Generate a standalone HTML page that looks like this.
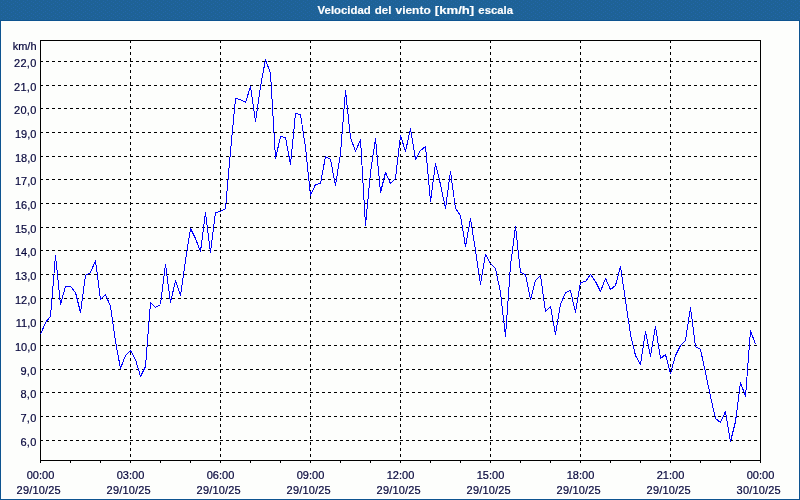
<!DOCTYPE html>
<html><head><meta charset="utf-8"><title>Velocidad del viento</title>
<style>
html,body{margin:0;padding:0;background:#fdfefc;}
body{width:800px;height:500px;overflow:hidden;position:relative;}
svg{position:absolute;left:0;top:0;display:block;}
text{font-family:"Liberation Sans",sans-serif;font-size:11px;fill:#06063c;stroke:#06063c;stroke-width:0.2px;}
.y{letter-spacing:0.3px;}
.t{font-weight:bold;fill:#ffffff;stroke:#ffffff;stroke-width:0.15px;font-size:11px;}
</style></head><body>
<svg width="800" height="500" viewBox="0 0 800 500">
<rect x="0" y="0" width="800" height="500" fill="#fdfefc"/>
<g shape-rendering="crispEdges">
<defs><pattern id="dth" x="0" y="0" width="8" height="4" patternUnits="userSpaceOnUse"><rect width="8" height="4" fill="#1e6296"/><rect x="3" y="0" width="1" height="1" fill="#2266aa"/><rect x="7" y="1" width="1" height="1" fill="#2266aa"/><rect x="1" y="2" width="1" height="1" fill="#2266aa"/><rect x="5" y="3" width="1" height="1" fill="#2266aa"/></pattern></defs>
<rect x="0" y="0" width="800" height="20" fill="#1e6296"/>
<rect x="0" y="0" width="800" height="20" fill="url(#dth)"/>
<rect x="0" y="20" width="800" height="1" fill="#0e5490"/>
<rect x="0" y="20" width="1" height="480" fill="#0e5490"/>
<rect x="799" y="20" width="1" height="480" fill="#0e5490"/>
<rect x="0" y="499" width="800" height="1" fill="#0e5490"/>
<rect x="798" y="21" width="1" height="478" fill="#ffffff"/>
<rect x="1" y="498" width="798" height="1" fill="#ffffff"/>
<g stroke="#000" stroke-width="1" stroke-dasharray="3 3" fill="none">
<line x1="40" y1="61.5" x2="760" y2="61.5"/>
<line x1="40" y1="85.5" x2="760" y2="85.5"/>
<line x1="40" y1="108.5" x2="760" y2="108.5"/>
<line x1="40" y1="132.5" x2="760" y2="132.5"/>
<line x1="40" y1="156.5" x2="760" y2="156.5"/>
<line x1="40" y1="179.5" x2="760" y2="179.5"/>
<line x1="40" y1="203.5" x2="760" y2="203.5"/>
<line x1="40" y1="227.5" x2="760" y2="227.5"/>
<line x1="40" y1="250.5" x2="760" y2="250.5"/>
<line x1="40" y1="274.5" x2="760" y2="274.5"/>
<line x1="40" y1="298.5" x2="760" y2="298.5"/>
<line x1="40" y1="321.5" x2="760" y2="321.5"/>
<line x1="40" y1="345.5" x2="760" y2="345.5"/>
<line x1="40" y1="369.5" x2="760" y2="369.5"/>
<line x1="40" y1="392.5" x2="760" y2="392.5"/>
<line x1="40" y1="416.5" x2="760" y2="416.5"/>
<line x1="40" y1="440.5" x2="760" y2="440.5"/>
<line x1="130.5" y1="40" x2="130.5" y2="460"/>
<line x1="220.5" y1="40" x2="220.5" y2="460"/>
<line x1="310.5" y1="40" x2="310.5" y2="460"/>
<line x1="400.5" y1="40" x2="400.5" y2="460"/>
<line x1="490.5" y1="40" x2="490.5" y2="460"/>
<line x1="580.5" y1="40" x2="580.5" y2="460"/>
<line x1="670.5" y1="40" x2="670.5" y2="460"/>
</g>
<g stroke="#000" stroke-width="1" fill="none">
<rect x="40.5" y="40.5" width="720" height="420"/>
<line x1="40.5" y1="461" x2="40.5" y2="463"/>
<line x1="70.5" y1="461" x2="70.5" y2="463"/>
<line x1="100.5" y1="461" x2="100.5" y2="463"/>
<line x1="130.5" y1="461" x2="130.5" y2="463"/>
<line x1="160.5" y1="461" x2="160.5" y2="463"/>
<line x1="190.5" y1="461" x2="190.5" y2="463"/>
<line x1="220.5" y1="461" x2="220.5" y2="463"/>
<line x1="250.5" y1="461" x2="250.5" y2="463"/>
<line x1="280.5" y1="461" x2="280.5" y2="463"/>
<line x1="310.5" y1="461" x2="310.5" y2="463"/>
<line x1="340.5" y1="461" x2="340.5" y2="463"/>
<line x1="370.5" y1="461" x2="370.5" y2="463"/>
<line x1="400.5" y1="461" x2="400.5" y2="463"/>
<line x1="430.5" y1="461" x2="430.5" y2="463"/>
<line x1="460.5" y1="461" x2="460.5" y2="463"/>
<line x1="490.5" y1="461" x2="490.5" y2="463"/>
<line x1="520.5" y1="461" x2="520.5" y2="463"/>
<line x1="550.5" y1="461" x2="550.5" y2="463"/>
<line x1="580.5" y1="461" x2="580.5" y2="463"/>
<line x1="610.5" y1="461" x2="610.5" y2="463"/>
<line x1="640.5" y1="461" x2="640.5" y2="463"/>
<line x1="670.5" y1="461" x2="670.5" y2="463"/>
<line x1="700.5" y1="461" x2="700.5" y2="463"/>
<line x1="730.5" y1="461" x2="730.5" y2="463"/>
<line x1="760.5" y1="461" x2="760.5" y2="463"/>
</g>
<polyline points="40.5,334.5 45.5,322.5 50.5,316.5 55.5,255.5 60.5,304.5 65.5,286.5 70.5,286.5 75.5,292.5 80.5,312.5 85.5,275.5 90.5,272.5 95.5,260.5 100.5,299.5 105.5,294.5 110.5,306.5 115.5,341.5 120.5,368.5 125.5,355.5 130.5,350.5 135.5,359.5 140.5,376.5 145.5,366.5 150.5,302.5 155.5,307.5 160.5,304.5 165.5,264.5 170.5,302.5 175.5,280.5 180.5,295.5 185.5,260.5 190.5,228.5 195.5,238.5 200.5,251.5 205.5,212.5 210.5,252.5 215.5,212.5 220.5,211.5 225.5,208.5 230.5,151.5 235.5,98.5 240.5,99.5 245.5,102.5 250.5,86.5 255.5,121.5 260.5,86.5 265.5,59.5 270.5,73.5 275.5,158.5 280.5,136.5 285.5,137.5 290.5,164.5 295.5,113.5 300.5,114.5 305.5,147.5 310.5,195.5 315.5,184.5 320.5,183.5 325.5,156.5 330.5,159.5 335.5,185.5 340.5,153.5 345.5,90.5 350.5,137.5 355.5,151.5 360.5,139.5 365.5,225.5 370.5,172.5 375.5,138.5 380.5,192.5 385.5,172.5 390.5,183.5 395.5,178.5 400.5,135.5 405.5,151.5 410.5,128.5 415.5,159.5 420.5,150.5 425.5,146.5 430.5,201.5 435.5,163.5 440.5,184.5 445.5,208.5 450.5,171.5 455.5,208.5 460.5,215.5 465.5,246.5 470.5,218.5 475.5,250.5 480.5,284.5 485.5,254.5 490.5,263.5 495.5,268.5 500.5,292.5 505.5,336.5 510.5,265.5 515.5,226.5 520.5,272.5 525.5,274.5 530.5,299.5 535.5,280.5 540.5,275.5 545.5,311.5 550.5,306.5 555.5,334.5 560.5,304.5 565.5,292.5 570.5,290.5 575.5,312.5 580.5,282.5 585.5,281.5 590.5,274.5 595.5,281.5 600.5,291.5 605.5,278.5 610.5,289.5 615.5,285.5 620.5,266.5 625.5,300.5 630.5,334.5 635.5,355.5 640.5,364.5 645.5,331.5 650.5,356.5 655.5,326.5 660.5,358.5 665.5,354.5 670.5,373.5 675.5,355.5 680.5,345.5 685.5,340.5 690.5,307.5 695.5,346.5 700.5,349.5 705.5,372.5 710.5,396.5 715.5,418.5 720.5,422.5 725.5,411.5 730.5,441.5 735.5,421.5 740.5,382.5 745.5,396.5 750.5,330.5 755.5,344.5" fill="none" stroke="#0000ff" stroke-width="1" stroke-linejoin="bevel"/>
</g>
<text class="t" y="14"><tspan x="317.60" textLength="53.10" lengthAdjust="spacingAndGlyphs">Velocidad</tspan> <tspan x="374.85" textLength="16.60" lengthAdjust="spacingAndGlyphs">del</tspan> <tspan x="395.50" textLength="35.20" lengthAdjust="spacingAndGlyphs">viento</tspan> <tspan x="434.85" textLength="39.35" lengthAdjust="spacingAndGlyphs">[km/h]</tspan> <tspan x="478.35" textLength="34.60" lengthAdjust="spacingAndGlyphs">escala</tspan></text>
<text x="36.5" y="50" text-anchor="end">km/h</text>
<text class="y" x="36.6" y="67" text-anchor="end">22,0</text>
<text class="y" x="36.6" y="91" text-anchor="end">21,0</text>
<text class="y" x="36.6" y="114" text-anchor="end">20,0</text>
<text x="36.4" y="138" text-anchor="end">19,0</text>
<text x="36.4" y="162" text-anchor="end">18,0</text>
<text x="36.4" y="185" text-anchor="end">17,0</text>
<text x="36.4" y="209" text-anchor="end">16,0</text>
<text x="36.4" y="233" text-anchor="end">15,0</text>
<text x="36.4" y="256" text-anchor="end">14,0</text>
<text x="36.4" y="280" text-anchor="end">13,0</text>
<text x="36.4" y="304" text-anchor="end">12,0</text>
<text x="36.4" y="327" text-anchor="end">11,0</text>
<text x="36.4" y="351" text-anchor="end">10,0</text>
<text class="y" x="36.6" y="375" text-anchor="end">9,0</text>
<text class="y" x="36.6" y="398" text-anchor="end">8,0</text>
<text class="y" x="36.6" y="422" text-anchor="end">7,0</text>
<text class="y" x="36.6" y="446" text-anchor="end">6,0</text>
<text x="40.5" y="479" text-anchor="middle">00:00</text>
<text x="38.65" y="494" text-anchor="middle" textLength="44.1" lengthAdjust="spacing">29/10/25</text>
<text x="130.5" y="479" text-anchor="middle">03:00</text>
<text x="128.65" y="494" text-anchor="middle" textLength="44.1" lengthAdjust="spacing">29/10/25</text>
<text x="220.5" y="479" text-anchor="middle">06:00</text>
<text x="218.65" y="494" text-anchor="middle" textLength="44.1" lengthAdjust="spacing">29/10/25</text>
<text x="310.5" y="479" text-anchor="middle">09:00</text>
<text x="308.65" y="494" text-anchor="middle" textLength="44.1" lengthAdjust="spacing">29/10/25</text>
<text x="400.5" y="479" text-anchor="middle">12:00</text>
<text x="398.65" y="494" text-anchor="middle" textLength="44.1" lengthAdjust="spacing">29/10/25</text>
<text x="490.5" y="479" text-anchor="middle">15:00</text>
<text x="488.65" y="494" text-anchor="middle" textLength="44.1" lengthAdjust="spacing">29/10/25</text>
<text x="580.5" y="479" text-anchor="middle">18:00</text>
<text x="578.65" y="494" text-anchor="middle" textLength="44.1" lengthAdjust="spacing">29/10/25</text>
<text x="670.5" y="479" text-anchor="middle">21:00</text>
<text x="668.65" y="494" text-anchor="middle" textLength="44.1" lengthAdjust="spacing">29/10/25</text>
<text x="760.5" y="479" text-anchor="middle">00:00</text>
<text x="758.65" y="494" text-anchor="middle" textLength="44.1" lengthAdjust="spacing">30/10/25</text>
</svg></body></html>
